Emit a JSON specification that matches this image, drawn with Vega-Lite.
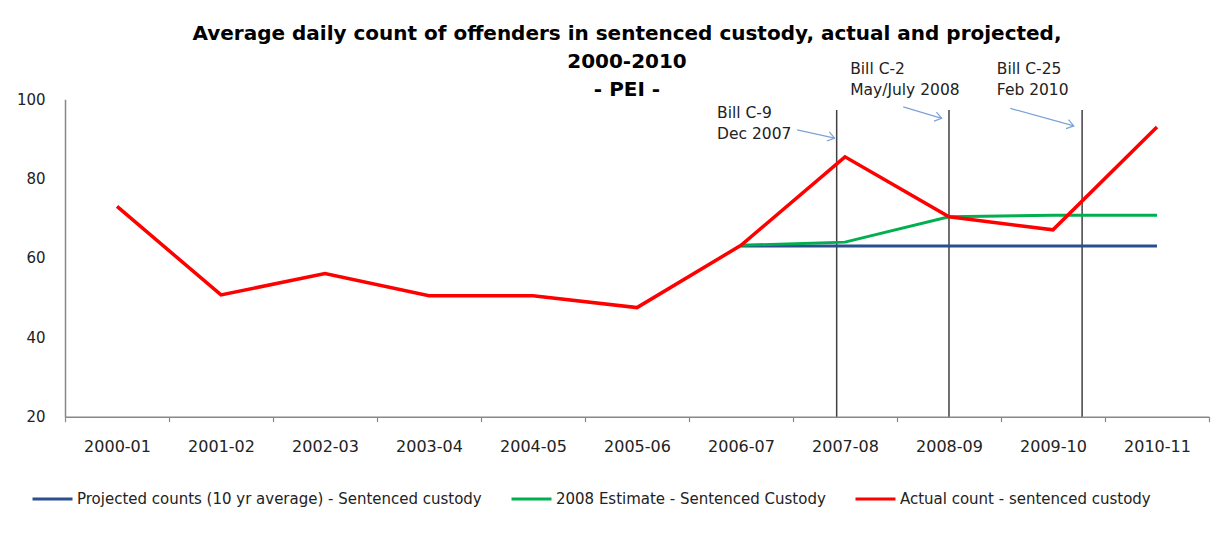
{
  "$schema": "https://vega.github.io/schema/vega-lite/v6.json",
  "width": 1144,
  "height": 317.4,
  "autosize": {"type": "none"},
  "padding": {"left": 65, "top": 99.3, "right": 2, "bottom": 130},
  "background": "white",
  "config": {
    "view": {"stroke": null},
    "font": "DejaVu Sans"
  },
  "title": {
    "text": ["Average daily count of offenders in sentenced custody, actual and projected,", "2000-2010", "- PEI -"],
    "font": "DejaVu Sans",
    "fontSize": 20,
    "fontWeight": "bold",
    "color": "#000000",
    "anchor": "middle",
    "dx": -10,
    "dy": 42,
    "lineHeight": 28,
    "offset": 4
  },
  "datasets": {
    "series": [
      {"year": "2000-01", "idx": 0, "series": "Actual count - sentenced custody", "value": 73},
      {"year": "2001-02", "idx": 1, "series": "Actual count - sentenced custody", "value": 50.7},
      {"year": "2002-03", "idx": 2, "series": "Actual count - sentenced custody", "value": 56.1},
      {"year": "2003-04", "idx": 3, "series": "Actual count - sentenced custody", "value": 50.5},
      {"year": "2004-05", "idx": 4, "series": "Actual count - sentenced custody", "value": 50.5},
      {"year": "2005-06", "idx": 5, "series": "Actual count - sentenced custody", "value": 47.5},
      {"year": "2006-07", "idx": 6, "series": "Actual count - sentenced custody", "value": 63.2},
      {"year": "2007-08", "idx": 7, "series": "Actual count - sentenced custody", "value": 85.5},
      {"year": "2008-09", "idx": 8, "series": "Actual count - sentenced custody", "value": 70.4},
      {"year": "2009-10", "idx": 9, "series": "Actual count - sentenced custody", "value": 67.1},
      {"year": "2010-11", "idx": 10, "series": "Actual count - sentenced custody", "value": 93},
      {"year": "2006-07", "idx": 6, "series": "2008 Estimate - Sentenced Custody", "value": 63.2},
      {"year": "2007-08", "idx": 7, "series": "2008 Estimate - Sentenced Custody", "value": 64.0},
      {"year": "2008-09", "idx": 8, "series": "2008 Estimate - Sentenced Custody", "value": 70.4},
      {"year": "2009-10", "idx": 9, "series": "2008 Estimate - Sentenced Custody", "value": 70.8},
      {"year": "2010-11", "idx": 10, "series": "2008 Estimate - Sentenced Custody", "value": 70.8},
      {"year": "2006-07", "idx": 6, "series": "Projected counts (10 yr average) - Sentenced custody", "value": 63.0},
      {"year": "2007-08", "idx": 7, "series": "Projected counts (10 yr average) - Sentenced custody", "value": 63.0},
      {"year": "2008-09", "idx": 8, "series": "Projected counts (10 yr average) - Sentenced custody", "value": 63.0},
      {"year": "2009-10", "idx": 9, "series": "Projected counts (10 yr average) - Sentenced custody", "value": 63.0},
      {"year": "2010-11", "idx": 10, "series": "Projected counts (10 yr average) - Sentenced custody", "value": 63.0}
    ],
    "bills": [
      {"bill": "Bill C-9", "date": "Dec 2007", "pos": 6.92, "top": 97.3, "bottom": 20, "tx": 5.77, "ty": 96.5, "ax": 6.54, "ay": 92.3, "ax2": 6.9, "ay2": 90.2},
      {"bill": "Bill C-2", "date": "May/July 2008", "pos": 8.0, "top": 97.3, "bottom": 20, "tx": 7.05, "ty": 107.7, "ax": 7.56, "ay": 98.1, "ax2": 7.93, "ay2": 95.2},
      {"bill": "Bill C-25", "date": "Feb 2010", "pos": 9.28, "top": 97.3, "bottom": 20, "tx": 8.46, "ty": 107.7, "ax": 8.59, "ay": 97.7, "ax2": 9.2, "ay2": 93.3}
    ]
  },
  "layer": [
    {
      "data": {"name": "bills"},
      "mark": {"type": "rule", "color": "#404040", "strokeWidth": 1.5},
      "encoding": {
        "x": {"field": "pos", "type": "quantitative"},
        "y": {"field": "top", "type": "quantitative"},
        "y2": {"field": "bottom"}
      }
    },
    {
      "data": {"name": "series"},
      "transform": [{"filter": "datum.series === 'Projected counts (10 yr average) - Sentenced custody'"}],
      "mark": {"type": "line", "strokeWidth": 3},
      "encoding": {
        "x": {
          "field": "idx",
          "type": "quantitative",
          "scale": {"domain": [-0.5, 10.5], "nice": false, "zero": false},
          "axis": {
            "title": null,
            "values": [-0.5, 0.5, 1.5, 2.5, 3.5, 4.5, 5.5, 6.5, 7.5, 8.5, 9.5, 10.5],
            "labelExpr": "datum.value < 10 ? ['2000-01','2001-02','2002-03','2003-04','2004-05','2005-06','2006-07','2007-08','2008-09','2009-10','2010-11'][datum.value + 0.5] : ''",
            "labelOffset": 52,
            "labelPadding": 17,
            "labelFontSize": 16,
            "labelFont": "DejaVu Sans",
            "labelColor": "#222222",
            "labelFlush": false,
            "labelOverlap": false,
            "labelBound": false,
            "grid": false,
            "tickSize": 5,
            "tickColor": "#888888",
            "tickWidth": 1.2,
            "domainColor": "#888888",
            "domainWidth": 1.5
          }
        },
        "y": {
          "field": "value",
          "type": "quantitative",
          "scale": {"domain": [20, 100], "nice": false, "zero": false},
          "axis": {
            "title": null,
            "values": [20, 40, 60, 80, 100],
            "grid": false,
            "ticks": false,
            "labelPadding": 20,
            "labelFontSize": 15,
            "labelFont": "DejaVu Sans",
            "labelColor": "#222222",
            "domainColor": "#888888",
            "domainWidth": 1.5
          }
        },
        "color": {
          "field": "series",
          "type": "nominal",
          "scale": {
            "domain": ["Projected counts (10 yr average) - Sentenced custody", "2008 Estimate - Sentenced Custody", "Actual count - sentenced custody"],
            "range": ["#2B4F8E", "#00B050", "#FF0000"]
          },
          "legend": {
            "title": null,
            "orient": "none",
            "direction": "horizontal",
            "columns": 3,
            "legendX": -34,
            "legendY": 378,
            "padding": 0,
            "symbolType": "stroke",
            "symbolSize": 1600,
            "symbolStrokeWidth": 3,
            "labelOffset": 3,
            "columnPadding": 22,
            "labelFontSize": 15,
            "labelFont": "DejaVu Sans",
            "labelColor": "#222222",
            "labelLimit": 600
          }
        }
      }
    },
    {
      "data": {"name": "series"},
      "transform": [{"filter": "datum.series === '2008 Estimate - Sentenced Custody'"}],
      "mark": {"type": "line", "strokeWidth": 3},
      "encoding": {
        "x": {"field": "idx", "type": "quantitative"},
        "y": {"field": "value", "type": "quantitative"},
        "color": {"field": "series", "type": "nominal"}
      }
    },
    {
      "data": {"name": "series"},
      "transform": [{"filter": "datum.series === 'Actual count - sentenced custody'"}],
      "mark": {"type": "line", "strokeWidth": 3.5},
      "encoding": {
        "x": {"field": "idx", "type": "quantitative"},
        "y": {"field": "value", "type": "quantitative"},
        "color": {"field": "series", "type": "nominal"}
      }
    },
    {
      "data": {"name": "bills"},
      "mark": {"type": "rule", "color": "#7BA3D6", "strokeWidth": 1.2},
      "encoding": {
        "x": {"field": "ax", "type": "quantitative"},
        "y": {"field": "ay", "type": "quantitative"},
        "x2": {"field": "ax2"},
        "y2": {"field": "ay2"}
      }
    },
    {
      "data": {"name": "bills"},
      "mark": {"type": "point", "shape": "M-1,-0.7L0,0L-1,0.7", "filled": false, "stroke": "#7BA3D6", "strokeWidth": 1.2, "size": 180, "angle": 15, "opacity": 1},
      "encoding": {
        "x": {"field": "ax2", "type": "quantitative"},
        "y": {"field": "ay2", "type": "quantitative"}
      }
    },
    {
      "data": {"name": "bills"},
      "transform": [{"calculate": "[datum.bill, datum.date]", "as": "label"}],
      "mark": {"type": "text", "align": "left", "baseline": "middle", "font": "DejaVu Sans", "fontSize": 15.5, "lineHeight": 21, "color": "#222222"},
      "encoding": {
        "x": {"field": "tx", "type": "quantitative"},
        "y": {"field": "ty", "type": "quantitative"},
        "text": {"field": "label"}
      }
    }
  ]
}
